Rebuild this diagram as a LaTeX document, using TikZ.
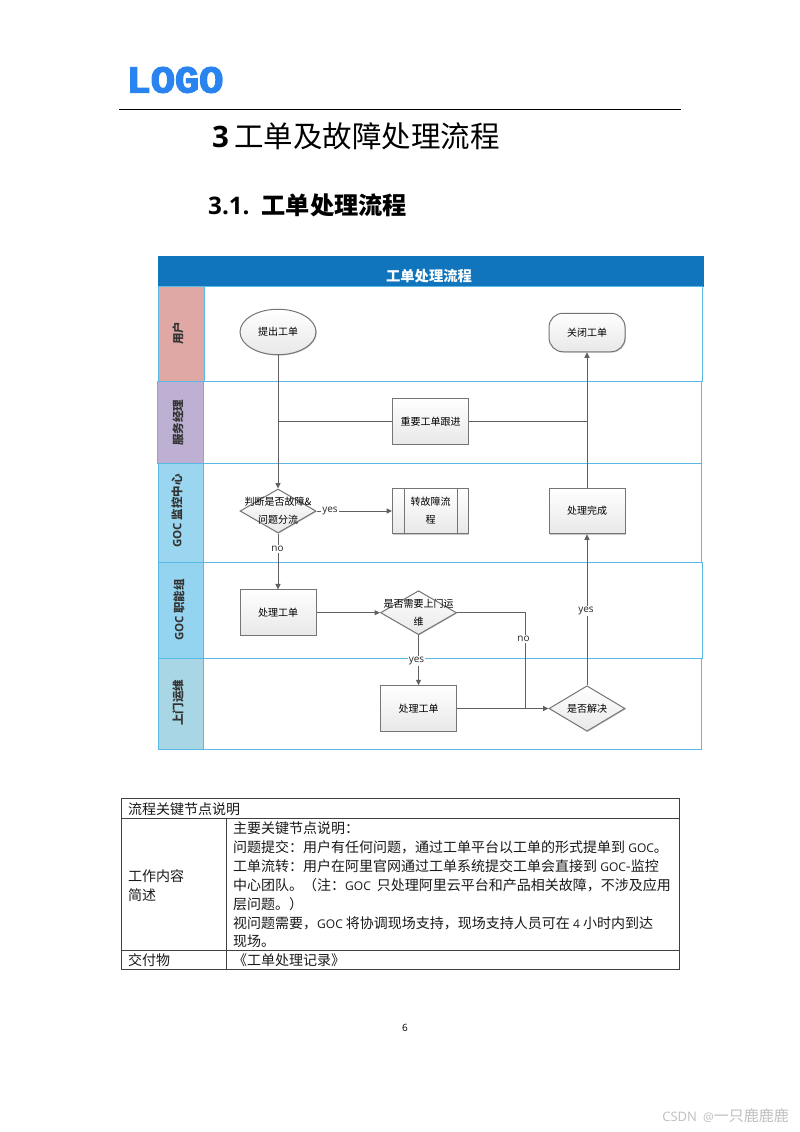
\documentclass[tikz,border=0pt]{standalone}
\usepackage{fontspec}
\setmainfont{Noto Sans CJK SC}
\newfontfamily\lat{Open Sans}
\newfontfamily\logofont[FakeBold=3.5]{Liberation Mono Bold}
\usetikzlibrary{arrows.meta,shapes.geometric,shadows,calc}
\definecolor{headblue}{HTML}{1075BD}
\definecolor{laneline}{HTML}{5AB8E4}
\definecolor{boxline}{HTML}{757575}
\definecolor{conn}{HTML}{5F5F5F}
\definecolor{logoblue}{HTML}{2A84F0}
\definecolor{tabline}{HTML}{404040}
\newcommand{\tlat}[1]{{\fontsize{12}{16}\selectfont\lat #1}}
\tikzset{
  lanebody/.style={draw=laneline,line width=.9pt,fill=white,inner sep=0,minimum width=#1},
  lanebar/.style={draw=laneline,line width=.9pt,inner sep=0,minimum width=45.5pt},
  lanetext/.style={rotate=90,font=\fontsize{11.5}{13}\selectfont\bfseries,text=black!80,inner sep=0},
  softshadow/.style={drop shadow={shadow xshift=.8pt,shadow yshift=-.8pt,opacity=.22,fill=black}},
  flowfill/.style={draw=boxline,line width=1pt,top color=white,bottom color=black!9,softshadow,inner sep=0},
  procbox/.style={flowfill,rectangle,minimum width=76pt,minimum height=45.5pt,font=\fontsize{10}{18}\selectfont,align=center},
  decide/.style={flowfill,diamond,aspect=1.727,minimum width=76pt,minimum height=44pt},
  dtext/.style={font=\fontsize{10}{18}\selectfont,align=center,inner sep=0},
  edgetext/.style={font=\fontsize{10}{11}\selectfont\lat,text=black!85,fill=white,inner sep=1pt},
  flow/.style={draw=conn,line width=1pt,-{Triangle[length=5.5pt,width=5pt]}},
  plain/.style={draw=conn,line width=1pt},
  tabrule/.style={draw=tabline,line width=.8pt},
  tabtext/.style={anchor=west,font=\fontsize{14}{16}\selectfont,inner sep=0,text=black!90},
}
\begin{document}
\begin{tikzpicture}[x=1pt,y=-1pt]
\useasboundingbox[fill=white] (0,0) rectangle (800,1132);

% page header
\node[anchor=center,inner sep=0,text=logoblue,font=\fontsize{38}{38}\selectfont\logofont,xscale=1.06] (logo) at (175,80) {LOGO};
\coordinate (hl) at (119,109.5); \coordinate (hr) at (681,109.5);
\draw[black,line width=.9pt] (hl) -- (hr);
\node[anchor=base west,inner sep=0,font=\fontsize{29.5}{32}\selectfont] (title) at (212,147) {{\lat\bfseries 3}\hspace{5pt}工单及故障处理流程};
\node[anchor=base west,inner sep=0,font=\fontsize{24.2}{28}\selectfont\bfseries] (sub) at (208,214) {{\lat 3.1.}\hspace{12pt}工单处理流程};

% swimlanes
\node[draw=headblue,fill=headblue,minimum width=544.5pt,minimum height=30pt,inner sep=0] (head) at (430.5,271) {};
\node[text=white,font=\fontsize{14.3}{16}\selectfont\bfseries,inner sep=0] (headt) at (429,276) {工单处理流程};

\node[lanebody=544.2pt,minimum height=95pt] (l1) at (430.6,334) {};
\node[lanebody=544.2pt,minimum height=81.5pt] (l2) at (429.6,422.25) {};
\node[lanebody=543.7pt,minimum height=99pt] (l3) at (429.85,512.5) {};
\node[lanebody=544.7pt,minimum height=95.6pt] (l4) at (430.35,610.5) {};
\node[lanebody=543.7pt,minimum height=91pt] (l5) at (429.85,703.8) {};

\node[lanebar,fill={rgb,255:red,224;green,168;blue,164},minimum height=95pt] (b1) at (181.2,334) {};
\node[lanebar,fill={rgb,255:red,189;green,176;blue,210},minimum height=81.5pt] (b2) at (180.2,422.25) {};
\node[lanebar,fill={rgb,255:red,154;green,214;blue,240},minimum height=99pt] (b3) at (181,512.5) {};
\node[lanebar,fill={rgb,255:red,148;green,212;blue,240},minimum height=95.6pt] (b4) at (181,610.5) {};
\node[lanebar,fill={rgb,255:red,168;green,214;blue,228},minimum height=91pt] (b5) at (181,703.8) {};

\node[lanetext] (t1) at (178,333) {用户};
\node[lanetext] (t2) at (178,422.5) {服务经理};
\node[lanetext] (t3) at (177,511) {{\lat GOC} 监控中心};
\node[lanetext] (t4) at (179,610) {{\lat GOC} 职能组};
\node[lanetext] (t5) at (178,702.5) {上门运维};

% flow nodes
\node[flowfill,ellipse,minimum width=76pt,minimum height=45.5pt,font=\fontsize{10}{12}\selectfont] (submit) at (278,332) {提出工单};
\node[flowfill,rectangle,rounded corners=14pt,minimum width=76pt,minimum height=38.5pt,font=\fontsize{10}{12}\selectfont] (close) at (587,332.5) {关闭工单};
\node[procbox] (track) at (430.5,421.3) {重要工单跟进};
\node[decide,label={[dtext]center:判断是否故障\&\\问题分流}] (judge) at (278,511) {};
\node[procbox] (trans) at (430.5,511) {转故障流\\程};
\node[procbox] (done) at (587,511) {处理完成};
\node[procbox] (work1) at (278,612.7) {处理工单};
\node[decide,label={[dtext]center:是否需要上门运\\维}] (need) at (418.5,612.7) {};
\node[procbox] (work2) at (418.5,708.5) {处理工单};
\node[decide,minimum height=45.5pt,aspect=1.67,label={[dtext]center:是否解决}] (solved) at (587,708.5) {};

\draw[draw=boxline,line width=1pt] ($(trans.north west)+(12,0)$) -- ($(trans.south west)+(12,0)$);
\draw[draw=boxline,line width=1pt] ($(trans.north east)+(-12,0)$) -- ($(trans.south east)+(-12,0)$);

% connectors
\coordinate (jl) at (submit.south |- track.west);
\coordinate (jr) at (done.north |- track.east);
\coordinate (jm) at (525,708.5);
\draw[flow] (submit.south) -- (judge.north);
\draw[plain] (jl) -- (track.west);
\draw[plain] (track.east) -- (jr);
\draw[flow] (done.north) -- (close.south);
\draw[flow] (judge.east) -- (trans.west);
\draw[flow] (judge.south) -- (work1.north);
\draw[flow] (work1.east) -- (need.west);
\draw[flow] (need.south) -- (work2.north);
\draw[plain] (need.east) -| (jm);
\draw[flow] (work2.east) -- (solved.west);
\draw[flow] (solved.north) -- (done.south);

\node[edgetext] (e1) at (330,511) {yes};
\node[edgetext] (e2) at (277.5,549) {no};
\node[edgetext] (e3) at (416.5,661) {yes};
\node[edgetext] (e4) at (523.5,639) {no};
\node[edgetext] (e5) at (586,611) {yes};

% table
\draw[tabrule] (121.5,798) rectangle (679.5,969.5);
\draw[tabrule] (121.5,818) -- (679.5,818);
\draw[tabrule] (121.5,950) -- (679.5,950);
\draw[tabrule] (226.5,818) -- (226.5,969.5);
\node[tabtext] (c0) at (128,809) {流程关键节点说明};
\node[tabtext] (c1) at (128,876) {工作内容};
\node[tabtext] (c2) at (128,895) {简述};
\node[tabtext] (c3) at (128,960.5) {交付物};
\node[tabtext] (d0) at (233,828.5) {主要关键节点说明：};
\node[tabtext] (d1) at (233,847.5) {问题提交：用户有任何问题，通过工单平台以工单的形式提单到 \tlat{GOC}。};
\node[tabtext] (d2) at (233,866.5) {工单流转：用户在阿里官网通过工单系统提交工单会直接到 \tlat{GOC}-监控};
\node[tabtext] (d3) at (233,885) {中心团队。（注：\tlat{GOC}\hspace{6pt}只处理阿里云平台和产品相关故障，不涉及应用};
\node[tabtext] (d4) at (233,904) {层问题。）};
\node[tabtext] (d5) at (233,923) {视问题需要，\tlat{GOC} 将协调现场支持，现场支持人员可在 \tlat{4} 小时内到达};
\node[tabtext] (d6) at (233,941.5) {现场。};
\node[tabtext] (d7) at (233,960.5) {《工单处理记录》};

\node[inner sep=0,font=\fontsize{10}{12}\selectfont\lat] (page) at (405,1028) {6};
\node[anchor=east,inner sep=0,text=black!25,font=\fontsize{15}{16}\selectfont] (mark) at (789,1116) {{\fontsize{13}{16}\selectfont\lat CSDN}\hspace{6pt}{\fontsize{12}{16}\selectfont\lat @}一只鹿鹿鹿};
\end{tikzpicture}
\end{document}
